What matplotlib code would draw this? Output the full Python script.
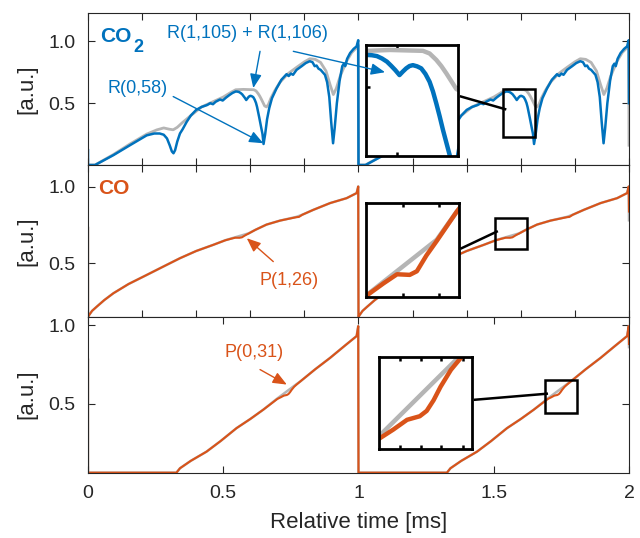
import numpy as np
import matplotlib
matplotlib.use("Agg")
import matplotlib.pyplot as plt
from matplotlib.patches import Rectangle

plt.rcParams['font.family'] = ['Liberation Sans', 'DejaVu Sans']

BLUE = '#0072BD'
ORANGE = '#D95319'
GRAY = '#B5B5B5'
AXC = '#262626'

# ---- CO2 panel, one 1 ms period (phase, value) ----
co2_t = [0.000, 0.026, 0.060, 0.094, 0.155, 0.217, 0.245, 0.265, 0.280, 0.292,
         0.302, 0.310, 0.316, 0.322, 0.330, 0.340, 0.350, 0.365, 0.380, 0.400,
         0.420, 0.440, 0.452, 0.462, 0.472, 0.488, 0.498, 0.510, 0.522, 0.534,
         0.546, 0.552, 0.558, 0.564, 0.570, 0.575, 0.580, 0.585, 0.589, 0.593,
         0.597, 0.601, 0.606, 0.611, 0.616, 0.621, 0.625, 0.629, 0.633, 0.637,
         0.641, 0.645, 0.649, 0.655, 0.662, 0.670, 0.680, 0.697, 0.715,
         0.734, 0.742, 0.750, 0.758, 0.771, 0.790, 0.805, 0.820, 0.830, 0.838,
         0.845, 0.852, 0.860, 0.868, 0.876, 0.884, 0.892, 0.899, 0.906, 0.912,
         0.920, 0.930, 0.940, 0.946, 0.951, 0.958, 0.969, 0.982, 0.993, 0.999]
co2_meas = [0.000, 0.000, 0.040, 0.080, 0.160, 0.240, 0.255, 0.255, 0.245, 0.215,
            0.160, 0.110, 0.095, 0.120, 0.190, 0.255, 0.290, 0.350, 0.400, 0.446,
            0.470, 0.485, 0.500, 0.492, 0.512, 0.530, 0.522, 0.545, 0.565, 0.583,
            0.595, 0.594, 0.591, 0.583, 0.572, 0.558, 0.543, 0.526, 0.538, 0.549,
            0.557, 0.560, 0.556, 0.549, 0.530, 0.503, 0.470, 0.429, 0.385, 0.338,
            0.295, 0.252, 0.170, 0.250, 0.370, 0.460, 0.540, 0.620, 0.690,
            0.735, 0.720, 0.740, 0.730, 0.770, 0.800, 0.825, 0.840, 0.832, 0.800,
            0.805, 0.780, 0.770, 0.750, 0.730, 0.670, 0.550, 0.350, 0.176, 0.300,
            0.500, 0.680, 0.800, 0.820, 0.800, 0.860, 0.906, 0.940, 0.960, 1.010]
co2_sim_t = [0.000, 0.026, 0.094, 0.155, 0.217, 0.254, 0.280, 0.300, 0.315, 0.330,
             0.350, 0.380, 0.420, 0.460, 0.500, 0.530, 0.546, 0.574, 0.613, 0.621,
             0.629, 0.635, 0.641, 0.647, 0.653, 0.660, 0.667, 0.676, 0.690, 0.710,
             0.740, 0.771, 0.800, 0.820, 0.840, 0.860, 0.880, 0.895, 0.907, 0.918,
             0.932, 0.956, 0.975, 0.993, 0.999]
co2_sim = [0.000, 0.000, 0.085, 0.170, 0.250, 0.284, 0.300, 0.290, 0.285, 0.305,
           0.345, 0.400, 0.470, 0.510, 0.550, 0.590, 0.609, 0.612, 0.609, 0.600,
           0.578, 0.557, 0.532, 0.505, 0.478, 0.470, 0.490, 0.540, 0.600, 0.670,
           0.740, 0.790, 0.835, 0.860, 0.855, 0.830, 0.760, 0.650, 0.570, 0.620,
           0.717, 0.840, 0.910, 0.950, 0.970]

# ---- CO panel, P(1,26) ----
co1_t = [0.000, 0.005, 0.015, 0.032, 0.060, 0.094, 0.150, 0.217, 0.280, 0.340,
         0.400, 0.463, 0.508, 0.527, 0.544, 0.560, 0.569, 0.581, 0.594, 0.619,
         0.660, 0.710, 0.770, 0.780, 0.792, 0.833, 0.895, 0.956, 0.993, 0.999]
co1_meas = [0.152, 0.165, 0.190, 0.217, 0.260, 0.305, 0.365, 0.424, 0.480, 0.533,
            0.580, 0.620, 0.650, 0.659, 0.6665, 0.666, 0.669, 0.682, 0.694, 0.718,
            0.752, 0.778, 0.800, 0.802, 0.816, 0.848, 0.892, 0.924, 0.957, 1.000]
co1_sim_t = [0.000, 0.005, 0.015, 0.032, 0.060, 0.094, 0.150, 0.217, 0.280, 0.340,
             0.400, 0.463, 0.508, 0.594, 0.619, 0.660, 0.710, 0.770, 0.792, 0.833,
             0.895, 0.956, 0.993, 0.999]
co1_sim = [0.152, 0.165, 0.190, 0.217, 0.260, 0.305, 0.365, 0.424, 0.480, 0.533,
           0.580, 0.620, 0.6505, 0.695, 0.718, 0.752, 0.778, 0.802, 0.816, 0.848,
           0.892, 0.924, 0.957, 1.000]

# ---- CO panel, P(0,31) ----
co0_t = [0.000, 0.327, 0.340, 0.380, 0.438, 0.490, 0.549, 0.600, 0.648, 0.700,
         0.712, 0.724, 0.735, 0.741, 0.747, 0.753, 0.762, 0.771, 0.785, 0.840,
         0.895, 0.950, 0.993, 0.999]
co0_meas = [0.065, 0.065, 0.093, 0.140, 0.198, 0.265, 0.347, 0.405, 0.464, 0.532,
            0.542, 0.553, 0.557, 0.563, 0.575, 0.590, 0.609, 0.623, 0.643, 0.720,
            0.792, 0.870, 0.930, 0.993]
co0_sim_t = [0.000, 0.327, 0.340, 0.380, 0.438, 0.490, 0.549, 0.600, 0.648, 0.700,
             0.771, 0.785, 0.840, 0.895, 0.950, 0.993, 0.999]
co0_sim = [0.065, 0.065, 0.093, 0.140, 0.198, 0.265, 0.347, 0.405, 0.464, 0.535,
           0.626, 0.643, 0.720, 0.792, 0.870, 0.930, 0.993]


def two_periods(t, v, first, last):
    x = [0.0] + list(t) + [p + 1 for p in t] + [2.0]
    y = [first] + list(v) + list(v) + [last]
    return np.array(x), np.array(y)


fig = plt.figure(figsize=(6.4, 5.38), dpi=100)

L, W = 0.1375, 0.8453
ax1 = fig.add_axes([L, 0.6933, W, 0.2825])
ax2 = fig.add_axes([L, 0.4113, W, 0.2820])
ax3 = fig.add_axes([L, 0.1214, W, 0.2900])

x, y = two_periods(co2_sim_t, co2_sim, 0.0, 0.16)
ax1.plot(x, y, color=GRAY, lw=2.0)
x, y = two_periods(co2_t, co2_meas, 0.12, 0.5)
ax1.plot(x, y, color=BLUE, lw=1.8)

x, y = two_periods(co1_sim_t, co1_sim, 0.73, 0.78)
ax2.plot(x, y, color=GRAY, lw=1.8)
x, y = two_periods(co1_t, co1_meas, 0.73, 0.837)
ax2.plot(x, y, color=ORANGE, lw=1.5)

x, y = two_periods(co0_sim_t, co0_sim, 0.78, 0.86)
ax3.plot(x, y, color=GRAY, lw=1.8)
x, y = two_periods(co0_t, co0_meas, 0.78, 0.88)
ax3.plot(x, y, color=ORANGE, lw=1.5)

ax1.set_ylim(0, 1.23)
ax2.set_ylim(0.152, 1.14)
ax3.set_ylim(0.065, 1.053)

for ax in (ax1, ax2, ax3):
    ax.set_xlim(0, 2)
    ax.set_yticks([0.5, 1.0])
    ax.set_yticklabels(['0.5', '1.0'])
    ax.tick_params(direction='in', top=True, right=True, length=5, width=0.8,
                   labelsize=14, pad=9, colors=AXC)
    for s in ax.spines.values():
        s.set_linewidth(0.8)
        s.set_color(AXC)
    ax.set_ylabel('[a.u.]', fontsize=16, color=AXC)
    ax.yaxis.set_label_coords(-0.093, 0.5)

for ax in (ax1, ax2):
    ax.set_xticks(np.arange(0, 2.01, 0.2))
    ax.set_xticklabels([])
ax3.set_xticks([0, 0.5, 1, 1.5, 2])
ax3.set_xticklabels(['0', '0.5', '1', '1.5', '2'])
ax3.set_xlabel('Relative time [ms]', fontsize=16, color=AXC, labelpad=7)

# species labels
ax1.text(0.022, 0.844, 'CO', transform=ax1.transAxes, color=BLUE, fontsize=15,
         fontweight='bold', ha='left', va='center')
ax1.text(0.083, 0.775, '2', transform=ax1.transAxes, color=BLUE, fontsize=13,
         fontweight='bold', ha='left', va='center')
ax2.text(0.019, 0.842, 'CO', transform=ax2.transAxes, color=ORANGE, fontsize=15,
         fontweight='bold', ha='left', va='center')

# line annotations
ax1.text(0.590, 1.063, 'R(1,105) + R(1,106)', color=BLUE, fontsize=13, ha='center', va='center')
ax1.text(0.185, 0.621, 'R(0,58)', color=BLUE, fontsize=13, ha='center', va='center')
ax2.text(0.743, 0.391, 'P(1,26)', color=ORANGE, fontsize=13, ha='center', va='center')
ax3.text(0.614, 0.826, 'P(0,31)', color=ORANGE, fontsize=13, ha='center', va='center')

ap = lambda c: dict(arrowstyle='-|>,head_length=0.6,head_width=0.25', color=c, lw=1.0,
                    mutation_scale=14, shrinkA=0, shrinkB=0)
ax1.annotate('', xy=(0.611, 0.623), xytext=(0.636, 0.92), arrowprops=ap(BLUE))
ax1.annotate('', xy=(0.648, 0.176), xytext=(0.315, 0.554), arrowprops=ap(BLUE))
ax2.annotate('', xy=(0.587, 0.663), xytext=(0.685, 0.511), arrowprops=ap(ORANGE))
ax3.annotate('', xy=(0.735, 0.623), xytext=(0.636, 0.718), arrowprops=ap(ORANGE))

# zoom boxes and connectors in the main panels
boxes = [(ax1, (1.535, 0.23), 0.117, 0.384, (1.379, 0.554), (1.542, 0.452)),
         (ax2, (1.505, 0.592), 0.117, 0.202, (1.381, 0.598), (1.511, 0.706)),
         (ax3, (1.689, 0.446), 0.120, 0.208, (1.431, 0.527), (1.696, 0.565))]
for ax, xy, w, h, p0, p1 in boxes:
    ax.add_patch(Rectangle(xy, w, h, fill=False, ec='k', lw=1.8, zorder=5))
    ax.plot([p0[0], p1[0]], [p0[1], p1[1]], color='k', lw=1.8, zorder=5)


def inset(rect, xlim, ylim, xt, yt, c, t_sim, v_sim, t_meas, v_meas):
    a = fig.add_axes(rect, zorder=10)
    x, y = two_periods(t_sim, v_sim, v_sim[0], v_sim[-1])
    a.plot(x, y, color=GRAY, lw=3.2)
    x, y = two_periods(t_meas, v_meas, v_meas[0], v_meas[-1])
    a.plot(x, y, color=c, lw=3.2)
    a.set_xlim(*xlim)
    a.set_ylim(*ylim)
    a.set_xticks(xt)
    a.set_yticks(yt)
    a.set_xticklabels([])
    a.set_yticklabels([])
    a.tick_params(direction='in', top=True, right=True, length=3, width=1.8)
    for s in a.spines.values():
        s.set_linewidth(2.0)
        s.set_color('k')
    return a


in1 = inset([0.5719, 0.7106, 0.1438, 0.2063], (1.545, 1.655), (0.25, 0.63),
            [1.582], [0.486], BLUE, co2_sim_t, co2_sim, co2_t, co2_meas)
in2 = inset([0.5719, 0.4485, 0.1453, 0.1736], (1.505, 1.622), (0.648, 0.725),
            [1.552, 1.597], [], ORANGE, co1_sim_t, co1_sim, co1_t, co1_meas)
in3 = inset([0.5927, 0.1649, 0.1444, 0.1710], (1.70, 1.78), (0.52, 0.623),
            [1.7176, 1.736, 1.7536, 1.772], [], ORANGE, co0_sim_t, co0_sim, co0_t, co0_meas)

# arrow that reaches into the first inset
in1.annotate('', xy=(1.098, 0.751), xycoords=ax1.transData,
             xytext=(0.759, 0.92), textcoords=ax1.transData,
             arrowprops=ap(BLUE), annotation_clip=False)

fig.savefig('out.png', dpi=100)
